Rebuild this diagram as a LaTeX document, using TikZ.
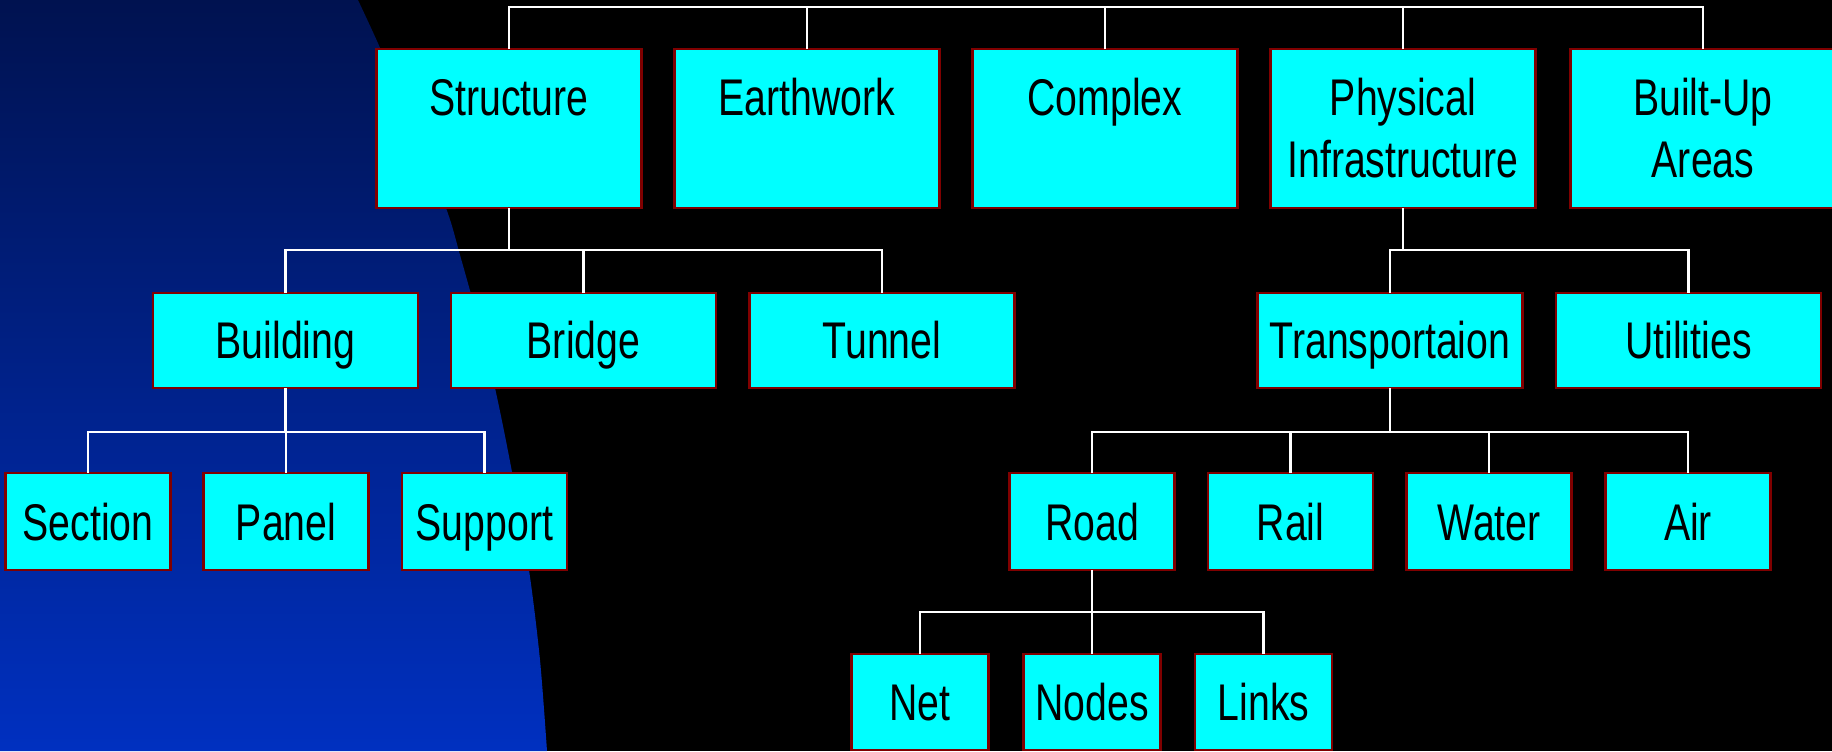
\documentclass[tikz,border=0pt]{standalone}
\usepackage{fontspec}
\setmainfont{Liberation Sans}[FakeStretch=0.76]
\definecolor{boxfill}{RGB}{0,255,255}
\definecolor{boxborder}{RGB}{128,0,0}
\definecolor{bgtop}{RGB}{0,18,80}
\definecolor{bgbottom}{RGB}{0,48,192}
\begin{document}
\begin{tikzpicture}[x=0.5pt,y=-0.5pt,
  box/.style={draw=boxborder, fill=boxfill, line width=1.4pt, inner sep=0pt, outer sep=0pt,
    align=center, text=black, font=\fontsize{25.8pt}{31pt}\selectfont},
  lvlA/.style={box, text width=132.5pt, text height=33pt, text depth=46.5pt},
  lvlB/.style={box, text width=132.5pt, text height=32.5pt, text depth=15pt},
  lvlC/.style={box, text width=82.5pt, text height=33.5pt, text depth=15pt},
  lvlD/.style={box, text width=68.5pt, text height=33pt, text depth=15pt},
  wire/.style={draw=white, line width=1.1pt}]
\useasboundingbox (0,0) rectangle (1832,751);
\clip (0,0) rectangle (1832,751);
% background
\fill[black] (0,0) rectangle (1832,751);
\shade[top color=bgtop, bottom color=bgbottom]
  (0,0) -- plot[smooth] coordinates {(358,0) (381,50) (410,120) (446,208) (460,255) (478,320) (495,388) (512,472) (529,570) (540,660) (547,751)} -- (0,751) -- cycle;
% level A
\node[lvlA] (structure) at (509,128.5) {Structure};
\node[lvlA] (earthwork) at (807,128.5) {Earthwork};
\node[lvlA] (complex) at (1105,128.5) {Complex};
\node[lvlA] (physical) at (1403,128.5) {Physical\\Infrastructure};
\node[lvlA] (builtup) at (1703,128.5) {Built-Up\\Areas};
% level B
\node[lvlB] (building) at (285.5,340.5) {Building};
\node[lvlB] (bridge) at (583.5,340.5) {Bridge};
\node[lvlB] (tunnel) at (882,340.5) {Tunnel};
\node[lvlB] (transport) at (1390,340.5) {Transportaion};
\node[lvlB] (utilities) at (1688.5,340.5) {Utilities};
% level C
\node[lvlC] (section) at (88,521.5) {Section};
\node[lvlC] (panel) at (286,521.5) {Panel};
\node[lvlC] (support) at (484.5,521.5) {Support};
\node[lvlC] (road) at (1092,521.5) {Road};
\node[lvlC] (rail) at (1290.5,521.5) {Rail};
\node[lvlC] (water) at (1489,521.5) {Water};
\node[lvlC] (air) at (1688,521.5) {Air};
% level D
\node[lvlD] (net) at (920,702) {Net};
\node[lvlD] (nodes) at (1092,702) {Nodes};
\node[lvlD] (links) at (1263.5,702) {Links};
% buses
\coordinate (busA) at (0,7);
\coordinate (busS) at (0,250);
\coordinate (busB) at (0,432);
\coordinate (busT) at (0,432);
\coordinate (busR) at (0,612);
% top bus
\draw[wire] (structure.north) -- (structure.north |- busA) -- (builtup.north |- busA) -- (builtup.north);
\draw[wire] (earthwork.north) -- (earthwork.north |- busA);
\draw[wire] (complex.north) -- (complex.north |- busA);
\draw[wire] (physical.north) -- (physical.north |- busA);
% structure children
\draw[wire] (structure.south) -- (structure.south |- busS);
\draw[wire] (building.north) -- (building.north |- busS) -- (tunnel.north |- busS) -- (tunnel.north);
\draw[wire] (bridge.north) -- (bridge.north |- busS);
% physical children
\draw[wire] (physical.south) -- (physical.south |- busS);
\draw[wire] (transport.north) -- (transport.north |- busS) -- (utilities.north |- busS) -- (utilities.north);
% building children
\draw[wire] (building.south) -- (building.south |- busB);
\draw[wire] (panel.north) -- (panel.north |- busB);
\draw[wire] (section.north) -- (section.north |- busB) -- (support.north |- busB) -- (support.north);
% transport children
\draw[wire] (transport.south) -- (transport.south |- busT);
\draw[wire] (road.north) -- (road.north |- busT) -- (air.north |- busT) -- (air.north);
\draw[wire] (rail.north) -- (rail.north |- busT);
\draw[wire] (water.north) -- (water.north |- busT);
% road children
\draw[wire] (road.south) -- (road.south |- busR);
\draw[wire] (nodes.north) -- (nodes.north |- busR);
\draw[wire] (net.north) -- (net.north |- busR) -- (links.north |- busR) -- (links.north);
\end{tikzpicture}
\end{document}
